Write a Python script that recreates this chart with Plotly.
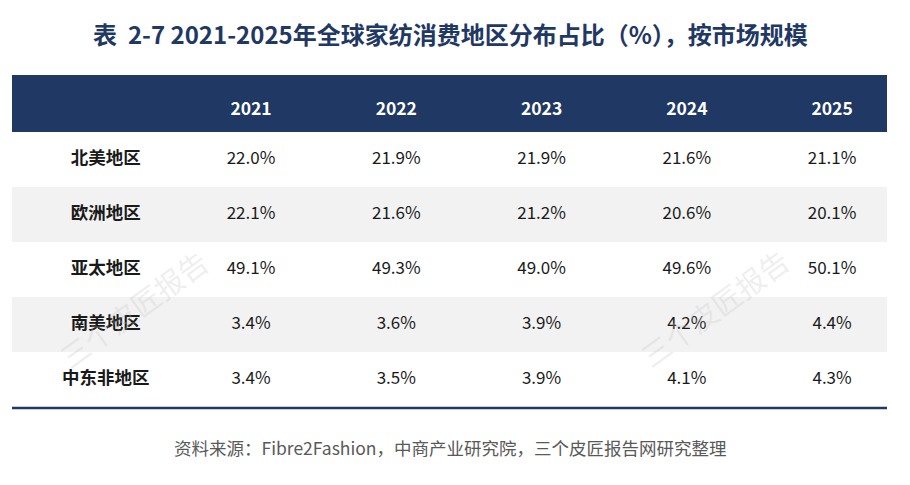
import plotly.graph_objects as go

# Table data: share of global home-textile consumption by region (%)
YEARS = ["2021", "2022", "2023", "2024", "2025"]
REGIONS = ["北美地区", "欧洲地区", "亚太地区", "南美地区", "中东非地区"]
NORTH_AMERICA = [22.0, 21.9, 21.9, 21.6, 21.1]
EUROPE = [22.1, 21.6, 21.2, 20.6, 20.1]
ASIA_PACIFIC = [49.1, 49.3, 49.0, 49.6, 50.1]
SOUTH_AMERICA = [3.4, 3.6, 3.9, 4.2, 4.4]
MIDDLE_EAST_AFRICA = [3.4, 3.5, 3.9, 4.1, 4.3]

TITLE = "表  2-7 2021-2025年全球家纺消费地区分布占比（%），按市场规模"
SOURCE = "资料来源：Fibre2Fashion，中商产业研究院，三个皮匠报告网研究整理"
WATERMARK = "三个皮匠报告"

NAVY = "#1f3864"
BAND = "#f2f2f2"
FONT = "Noto Sans CJK SC"

# the page body has an 8px margin, so the figure is a bit smaller than the window
W, H, OFF = 902, 477, 8


def px(x):
    return (x - OFF) / W


def py(y):
    return 1 - (y - OFF) / H


rows = [NORTH_AMERICA, EUROPE, ASIA_PACIFIC, SOUTH_AMERICA, MIDDLE_EAST_AFRICA]
HEADER_Y = -0.88  # header text sits a bit below the middle of the navy band

fig = go.Figure()

# alternate grey bands behind rows 2 and 4
for i in range(len(REGIONS)):
    if i % 2 == 1:
        fig.add_shape(type="rect", xref="x domain", yref="y", x0=0, x1=1,
                      y0=i - 0.5, y1=i + 0.5, fillcolor=BAND, line_width=0, layer="below")

# navy header band
fig.add_shape(type="rect", xref="x domain", yref="y", x0=0, x1=1,
              y0=-1.536, y1=-0.5, fillcolor=NAVY, line_width=0, layer="below")
# bottom rule
fig.add_shape(type="line", xref="x domain", yref="y", x0=0, x1=1,
              y0=len(REGIONS) - 0.48, y1=len(REGIONS) - 0.48, line=dict(color=NAVY, width=2.5))

# header years
fig.add_trace(go.Scatter(
    x=list(range(1, len(YEARS) + 1)), y=[HEADER_Y] * len(YEARS), text=YEARS,
    mode="text", textfont=dict(family=FONT, size=17.5, color="white", weight="bold"),
    hoverinfo="skip"))

# region labels
fig.add_trace(go.Scatter(
    x=[0] * len(REGIONS), y=list(range(len(REGIONS))), text=REGIONS,
    mode="text", textfont=dict(family=FONT, size=17.5, color="#1a1a1a", weight="bold"),
    hoverinfo="skip"))

# values
for i, vals in enumerate(rows):
    fig.add_trace(go.Scatter(
        x=list(range(1, len(vals) + 1)), y=[i] * len(vals),
        text=[f"{v:.1f}%" for v in vals],
        mode="text", textfont=dict(family=FONT, size=17, color="#1a1a1a"),
        hoverinfo="skip"))

# faint watermarks
for wx, wy in [(133, 308), (714, 307)]:
    fig.add_annotation(text=WATERMARK, xref="paper", yref="paper",
                       x=px(wx), y=py(wy), xanchor="center", yanchor="middle",
                       showarrow=False, textangle=-36,
                       font=dict(family=FONT, size=29, color="rgba(190,190,190,0.25)"))

fig.add_annotation(text=f"<b>{TITLE}</b>", xref="paper", yref="paper",
                   x=px(450), y=py(33), xanchor="center", yanchor="middle", showarrow=False,
                   font=dict(family=FONT, size=24, color=NAVY))
fig.add_annotation(text=SOURCE, xref="paper", yref="paper",
                   x=px(450), y=py(447), xanchor="center", yanchor="middle", showarrow=False,
                   font=dict(family=FONT, size=17.5, color="#595959"))

fig.update_layout(
    width=W, height=H,
    margin=dict(l=0, r=0, t=0, b=0),
    paper_bgcolor="white", plot_bgcolor="white",
    showlegend=False,
    xaxis=dict(range=[-0.6456, 5.378], domain=[px(12), px(887)], visible=False, fixedrange=True),
    # a little room below the last row so the bottom rule is not clipped
    yaxis=dict(range=[4.6, -1.536], domain=[py(412.5), py(75)], visible=False, fixedrange=True),
)

fig.write_html("out.html", config={"displayModeBar": False})
